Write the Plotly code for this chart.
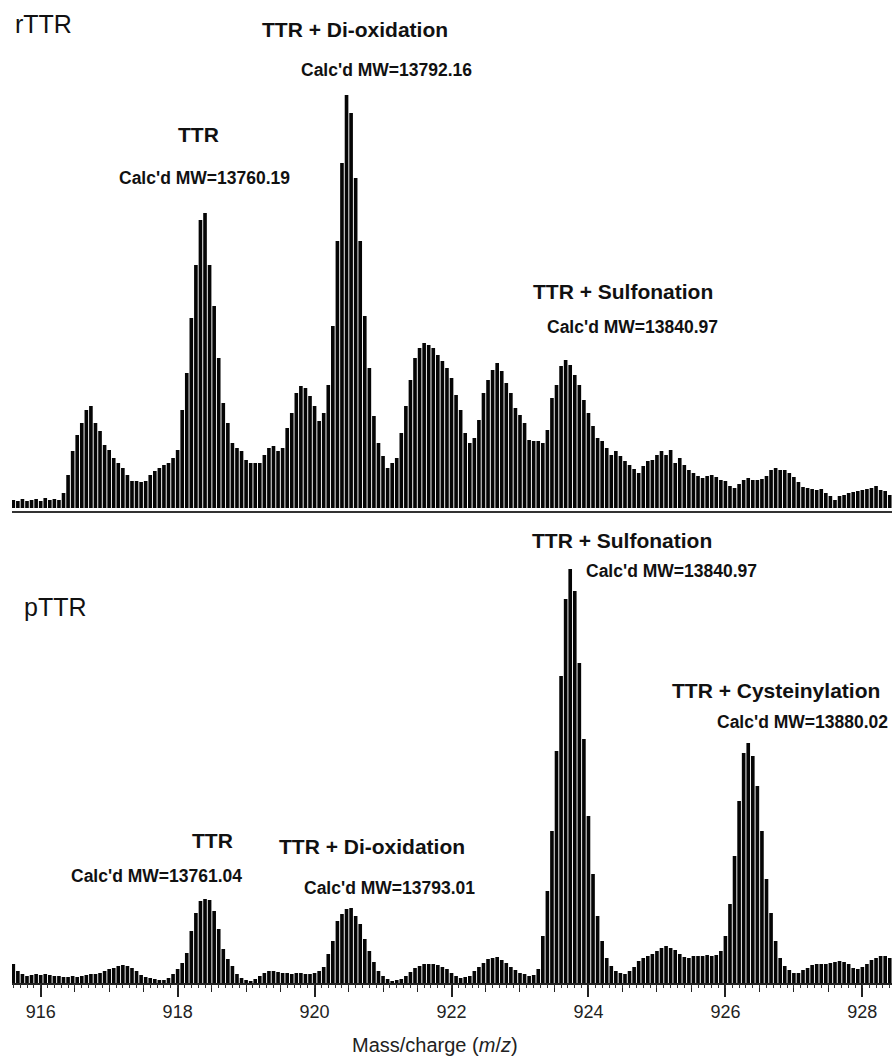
import plotly.graph_objects as go

# ---------------- data ----------------
MZ_FIRST = 915.60          # m/z of first isotope peak drawn
ISOTOPE_STEP = 1 / 15      # isotope spacing for the 15+ charge state

# peak heights of individual isotope peaks (arbitrary intensity units)
rttr_intensity = [
    8, 7, 9, 7, 8, 9, 7, 10, 8, 9,
    8, 15, 33, 57, 73, 85, 98, 102, 85, 77,
    63, 58, 50, 45, 40, 33, 27, 27, 26, 27,
    33, 37, 40, 43, 45, 50, 58, 98, 135, 190,
    243, 288, 295, 243, 202, 150, 105, 85, 65, 60,
    57, 48, 45, 45, 45, 53, 60, 62, 57, 60,
    80, 95, 115, 122, 120, 112, 102, 87, 95, 123,
    182, 267, 345, 413, 395, 330, 267, 192, 140, 92,
    65, 52, 40, 45, 50, 75, 102, 128, 150, 160,
    165, 163, 160, 153, 147, 140, 130, 113, 98, 75,
    65, 70, 88, 115, 128, 138, 145, 137, 125, 115,
    100, 93, 85, 68, 67, 67, 65, 78, 110, 123,
    142, 148, 143, 133, 123, 108, 95, 82, 70, 67,
    60, 53, 57, 52, 47, 43, 39, 35, 42, 47,
    48, 53, 57, 53, 58, 45, 50, 43, 38, 35,
    32, 30, 32, 33, 31, 28, 27, 22, 20, 24,
    28, 30, 28, 28, 29, 32, 38, 40, 38, 38,
    35, 31, 26, 21, 20, 19, 18, 19, 15, 12,
    8, 12, 13, 15, 16, 17, 18, 19, 20, 22,
    18, 17, 13,
]

pttr_intensity = [
    19, 12, 9, 7, 8, 9, 8, 9, 8, 7,
    7, 6, 6, 7, 6, 7, 8, 9, 9, 10,
    12, 14, 15, 17, 18, 17, 15, 12, 8, 6,
    5, 4, 3, 3, 5, 9, 14, 20, 30, 52,
    70, 82, 84, 83, 72, 54, 34, 24, 17, 9,
    5, 3, 2, 4, 7, 10, 12, 12, 11, 10,
    10, 9, 10, 10, 9, 9, 10, 12, 16, 29,
    42, 62, 69, 74, 75, 67, 59, 44, 32, 21,
    12, 7, 4, 2, 3, 4, 7, 11, 15, 17,
    19, 19, 19, 18, 16, 14, 10, 7, 5, 6,
    7, 12, 16, 20, 24, 25, 26, 23, 20, 16,
    13, 10, 9, 7, 8, 14, 47, 92, 152, 232,
    307, 384, 414, 392, 320, 244, 167, 109, 67, 42,
    25, 17, 12, 10, 9, 12, 16, 22, 25, 27,
    29, 32, 35, 37, 35, 33, 29, 26, 25, 27,
    27, 27, 28, 27, 28, 32, 47, 79, 127, 182,
    230, 240, 227, 197, 152, 104, 70, 42, 25, 17,
    13, 10, 10, 13, 15, 18, 19, 19, 19, 20,
    21, 22, 21, 19, 15, 14, 16, 19, 23, 25,
    27, 27, 25,
]

tick_values = [916, 918, 920, 922, 924, 926, 928]
tick_labels = ["916", "918", "920", "922", "924", "926", "928"]

# labels: (text, x_px, y_px, size, bold, anchor)
labels = [
    ("rTTR", 13, 24, 25, False, "left"),
    ("TTR + Di-oxidation", 355, 29, 21, True, "center"),
    ("Calc'd MW=13792.16", 386, 70, 17.5, True, "center"),
    ("TTR", 198, 135, 21, True, "center"),
    ("Calc'd MW=13760.19", 204, 178, 17.5, True, "center"),
    ("TTR + Sulfonation", 623, 291, 21, True, "center"),
    ("Calc'd MW=13840.97", 632, 327, 17.5, True, "center"),
    ("pTTR", 22, 607, 25, False, "left"),
    ("TTR + Sulfonation", 622, 540, 21, True, "center"),
    ("Calc'd MW=13840.97", 671, 571, 17.5, True, "center"),
    ("TTR + Cysteinylation", 776, 690, 21, True, "center"),
    ("Calc'd MW=13880.02", 802, 722, 17.5, True, "center"),
    ("TTR", 212, 840, 21, True, "center"),
    ("Calc'd MW=13761.04", 156, 876, 17.5, True, "center"),
    ("TTR + Di-oxidation", 372, 846, 21, True, "center"),
    ("Calc'd MW=13793.01", 389, 888, 17.5, True, "center"),
]

# ---------------- figure ----------------
W, H = 892, 1058
ML, MR, MT, MB = 12, 0, 0, 75
PW, PH = W - ML - MR, H - MT - MB
FONT = "Liberation Sans, Arial, Helvetica, sans-serif"
XR = [915.581, 928.433]
SPLIT = (983 - 510.7) / PH
BAR_W = 0.053

fig = go.Figure()
fig.add_trace(go.Bar(x0=MZ_FIRST, dx=ISOTOPE_STEP, y=rttr_intensity, base=-3,
                     width=BAR_W, marker=dict(color="#050505", line=dict(width=0)),
                     xaxis="x2", yaxis="y2", hoverinfo="skip"))
fig.add_trace(go.Bar(x0=MZ_FIRST, dx=ISOTOPE_STEP, y=pttr_intensity, base=-1,
                     width=BAR_W, marker=dict(color="#050505", line=dict(width=0)),
                     xaxis="x", yaxis="y", hoverinfo="skip"))
fig.add_trace(go.Scatter(x=[], y=[], xaxis="x3", yaxis="y", showlegend=False))

def px(x, y):
    return (x - ML) / PW, (MT + PH - y) / PH

ann = []
for text, x, y, size, bold, anchor in labels:
    xp, yp = px(x, y)
    ann.append(dict(text=f"<b>{text}</b>" if bold else text, x=xp, y=yp,
                    xref="paper", yref="paper", xanchor=anchor, yanchor="middle",
                    showarrow=False, font=dict(family=FONT, size=size, color="#111")))
xp, yp = px(435, 1045)
ann.append(dict(text="Mass/charge (<i>m</i>/<i>z</i>)", x=xp, y=yp, xref="paper", yref="paper",
                xanchor="center", yanchor="middle", showarrow=False,
                font=dict(family=FONT, size=20, color="#222")))

fig.update_layout(
    width=W, height=H, margin=dict(l=ML, r=MR, t=MT, b=MB),
    paper_bgcolor="white", plot_bgcolor="white", showlegend=False,
    barmode="overlay",
    annotations=ann,
    xaxis=dict(domain=[0, 1], range=XR, anchor="y", showline=True, linecolor="#222",
               linewidth=1.6, ticks="outside", ticklen=12, tickwidth=1.6, tickcolor="#222",
               tickvals=tick_values, ticktext=tick_labels,
               tickfont=dict(family=FONT, size=18, color="#222"),
               minor=dict(dtick=0.5, tick0=916, ticks="outside", ticklen=7, tickwidth=1.3,
                          tickcolor="#222", showgrid=False),
               showgrid=False, zeroline=False),
    xaxis3=dict(range=XR, overlaying="x", anchor="y", side="bottom", ticks="outside",
                tick0=916, dtick=0.1, ticklen=4, tickwidth=1, tickcolor="#333",
                showticklabels=False, showline=False, showgrid=False, zeroline=False),
    xaxis2=dict(domain=[0, 1], range=XR, anchor="y2", showline=True, linecolor="#333",
                linewidth=2, ticks="", showticklabels=False, showgrid=False, zeroline=False),
    yaxis=dict(domain=[0, SPLIT], range=[-1, 471.3], visible=False),
    yaxis2=dict(domain=[SPLIT, 1], range=[-5.7, 505], visible=False),
)

fig.write_html("out.html")
